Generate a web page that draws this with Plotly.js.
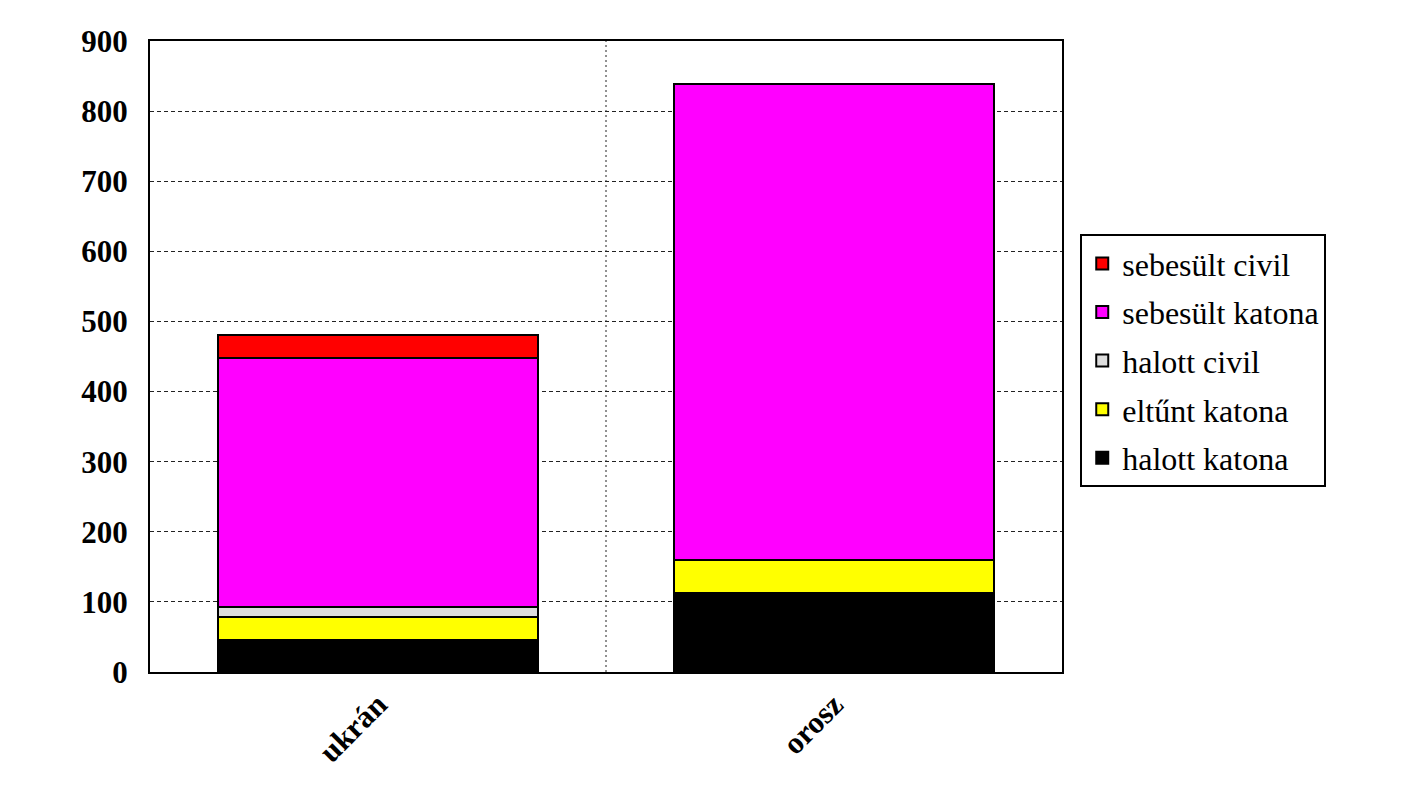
<!DOCTYPE html>
<html>
<head>
<meta charset="utf-8">
<script src="https://cdn.plot.ly/plotly-3.0.1.min.js"></script>
<style>html,body{margin:0;padding:0;background:#fff;}#chart{width:1417px;height:797px;}</style>
</head>
<body>
<div id="chart"></div>
<script>
const categories = ["ukrán", "orosz"];
const halottKatona = [46, 113];
const eltuntKatona = [33, 47];
const halottCivil = [14, 0];
const sebesultKatona = [355, 679];
const sebesultCivil = [32, 0];
const seriesNames = ["halott katona", "eltűnt katona", "halott civil", "sebesült katona", "sebesült civil"];
const seriesColors = ["#000000", "#ffff00", "#dddddd", "#ff00ff", "#ff0000"];
const seriesValues = [halottKatona, eltuntKatona, halottCivil, sebesultKatona, sebesultCivil];
const yTicks = [0, 100, 200, 300, 400, 500, 600, 700, 800, 900];

const font = "Liberation Serif, Times New Roman, serif";
const traces = seriesNames.map((n, i) => ({
  type: "bar",
  name: n,
  x: categories,
  y: seriesValues[i],
  legendgroup: "g" + i,
  legendrank: 1000 - i,
  marker: { color: seriesColors[i], line: { color: "#000", width: 2 } },
  width: 0.7,
  hoverinfo: "x+y+name"
}));

const layout = {
  width: 1417, height: 797,
  barmode: "stack",
  paper_bgcolor: "#fff", plot_bgcolor: "#fff",
  margin: { l: 150, r: 355, t: 41, b: 125 },
  font: { family: font, color: "#000" },
  xaxis: {
    type: "category",
    showline: true, linecolor: "#000", linewidth: 2, mirror: true,
    showgrid: false, ticks: "", tickangle: -45,
    tickfont: { family: font, size: 31, weight: "bold" }
  },
  yaxis: {
    range: [0, 900], tickvals: yTicks, ticktext: yTicks.map(String),
    showline: true, linecolor: "#000", linewidth: 2, mirror: true,
    showgrid: true, gridcolor: "#222", gridwidth: 1, griddash: "4px,3px",
    ticks: "", zeroline: false, ticklabelstandoff: 14,
    tickfont: { family: font, size: 31, weight: "bold" }
  },
  shapes: [{
    type: "line", xref: "x", yref: "paper", x0: 0.5, x1: 0.5, y0: 0, y1: 1,
    line: { color: "#222", width: 1, dash: "2px,3px" }, layer: "below"
  }],
  legend: {
    x: 1.02, y: 0.694, xanchor: "left", yanchor: "top",
    traceorder: "grouped", tracegroupgap: 4,
    bordercolor: "#000", borderwidth: 2, bgcolor: "#fff",
    font: { family: font, size: 32 },
    itemwidth: 30
  },
  showlegend: true
};

Plotly.newPlot("chart", traces, layout, { displayModeBar: false, staticPlot: true });
</script>
</body>
</html>
